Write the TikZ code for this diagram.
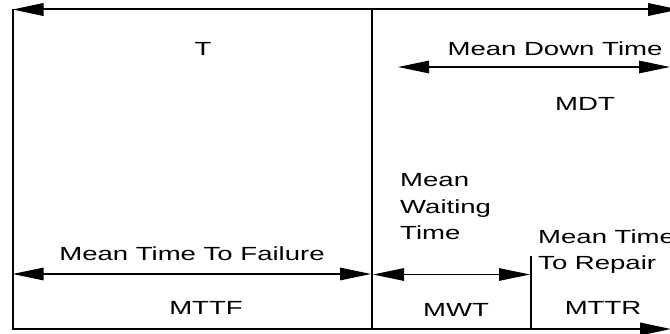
\documentclass[tikz,border=0pt]{standalone}
\usepackage{fontspec}
\setmainfont{Liberation Sans}[FakeStretch=1.45]
\usetikzlibrary{arrows.meta}

\begin{document}
\begin{tikzpicture}[x=1pt,y=-1pt,
    >={Triangle[length=31pt,width=12.5pt]},
    frame/.style={line width=2pt},
    span/.style={line width=1.3pt,<->},
    every node/.style={font=\fontsize{19}{26.5}\selectfont,inner sep=0pt}]
  \useasboundingbox (0,0) rectangle (670,334);
  % corners and ends of the time line
  \coordinate (tl) at (12.5,9.5);
  \coordinate (tr) at (679,9.5);
  \coordinate (bl) at (12.5,329);
  \coordinate (br) at (671,329);
  \coordinate (mt) at (372,9.5);
  \coordinate (mb) at (372,329);
  \coordinate (rt) at (531,256);
  \coordinate (rb) at (531,329);
  % frame
  \draw [frame,<->] (tl) -- (tr);
  \draw [frame,->] (tl) -- (bl) -- (br);
  \draw [frame] (mt) -- (mb);
  \draw [line width=1.7pt] (rt) -- (rb);
  % spans
  \coordinate (d1) at (398,67);
  \coordinate (d2) at (670,67);
  \coordinate (f1) at (12.5,274);
  \coordinate (f2) at (371,274);
  \coordinate (w1) at (373,274.5);
  \coordinate (w2) at (530,274.5);
  \draw [span] (d1) -- (d2);
  \draw [span] (f1) -- (f2);
  \draw [span] (w1) -- (w2);
  % labels
  \node[anchor=base] (t) at (203,56) {T};
  \node[anchor=base] (mdtname) at (555,56) {Mean Down Time};
  \node[anchor=base] (mdt) at (585,111) {MDT};
  \node[anchor=north west,align=left] (mwtname) at (400,173.5) {Mean\\Waiting\\Time};
  \node[anchor=north west,align=left] (mttrname) at (538,229.5) {Mean Time\\To Repair};
  \node[anchor=base] (mttfname) at (192,260) {Mean Time To Failure};
  \node[anchor=base] (mttf) at (206,314) {MTTF};
  \node[anchor=base] (mwt) at (456,316) {MWT};
  \node[anchor=base] (mttr) at (603,314) {MTTR};
\end{tikzpicture}
\end{document}
